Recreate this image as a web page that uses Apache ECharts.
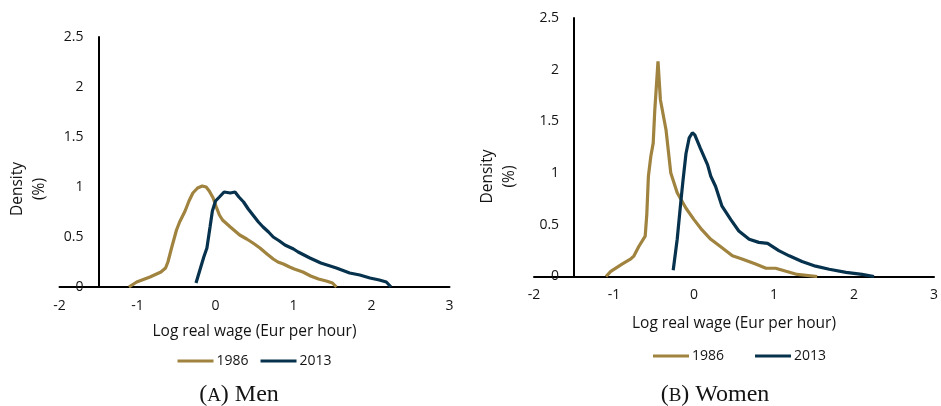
<!DOCTYPE html>
<html>
<head>
<meta charset="utf-8">
<script src="https://cdn.jsdelivr.net/npm/echarts@6/dist/echarts.min.js"></script>
<style>html,body{margin:0;padding:0;background:#fff;}#c{width:941px;height:406px;}</style>
</head>
<body>
<div id="c"></div>
<script>
// ---- data ----
const xTicks = [-2, -1, 0, 1, 2, 3];
const yTicks = [0, 0.5, 1, 1.5, 2, 2.5];
const seriesNames = ['1986', '2013'];
const panelTitles = ['Men', 'Women'];
const panelLetters = ['A', 'B'];
const xAxisTitle = 'Log real wage (Eur per hour)';
const yAxisTitle = 'Density\n(%)';

const menX1986 = [-1.11,-1.01,-0.84,-0.70,-0.64,-0.61,-0.56,-0.50,-0.46,-0.39,-0.34,-0.29,-0.23,-0.17,-0.12,-0.08,-0.03,0.01,0.05,0.09,0.19,0.31,0.40,0.48,0.57,0.66,0.74,0.80,0.87,0.95,1.01,1.12,1.22,1.32,1.42,1.50,1.55];
const menY1986 = [0.00,0.05,0.10,0.15,0.19,0.25,0.40,0.57,0.65,0.76,0.86,0.94,0.99,1.01,1.00,0.96,0.89,0.80,0.72,0.67,0.60,0.52,0.48,0.44,0.39,0.33,0.28,0.25,0.23,0.20,0.18,0.15,0.11,0.08,0.06,0.04,0.00];

const menX2013 = [-0.25,-0.20,-0.15,-0.11,-0.07,-0.04,0.00,0.05,0.11,0.19,0.25,0.30,0.36,0.42,0.48,0.55,0.61,0.68,0.74,0.82,0.89,1.00,1.06,1.21,1.35,1.55,1.72,1.85,1.98,2.10,2.19,2.25];
const menY2013 = [0.04,0.17,0.30,0.39,0.60,0.76,0.86,0.90,0.95,0.94,0.95,0.90,0.85,0.78,0.72,0.65,0.60,0.55,0.50,0.46,0.42,0.38,0.35,0.29,0.24,0.19,0.14,0.12,0.09,0.07,0.05,0.00];

const womenX1986 = [-1.10,-1.04,-0.90,-0.79,-0.75,-0.69,-0.61,-0.59,-0.57,-0.54,-0.51,-0.49,-0.45,-0.42,-0.35,-0.29,-0.21,-0.10,0.00,0.10,0.21,0.33,0.48,0.60,0.77,0.90,1.02,1.15,1.29,1.54];
const womenY1986 = [0.00,0.05,0.12,0.17,0.20,0.29,0.39,0.60,0.97,1.16,1.29,1.61,2.08,1.71,1.42,1.00,0.81,0.66,0.55,0.45,0.36,0.29,0.20,0.17,0.12,0.08,0.08,0.05,0.02,0.00];

const womenX2013 = [-0.26,-0.21,-0.17,-0.14,-0.10,-0.06,-0.02,0.01,0.08,0.17,0.21,0.27,0.35,0.46,0.56,0.69,0.81,0.92,1.06,1.19,1.35,1.52,1.69,1.90,2.10,2.25];
const womenY2013 = [0.06,0.36,0.68,0.91,1.19,1.34,1.39,1.37,1.24,1.08,0.97,0.87,0.68,0.55,0.44,0.36,0.33,0.32,0.25,0.20,0.145,0.10,0.07,0.04,0.02,0.00];

// ---- styling / layout ----
const colors = ['#9f833f', '#07324d'];
const FONT = '"Open Sans", Lato, sans-serif';
const SERIF = '"Liberation Serif", "DejaVu Serif", serif';
const TXT = '#141414';

const grids = [
  { left: 59.5, top: 37, width: 390, height: 250 },
  { left: 534, top: 18, width: 401, height: 258.5 }
];
const yOffsets = [-39, -40.1];
const nameGaps = [37, 39];

function pairs(xs, ys) { return xs.map((x, i) => [x, ys[i]]); }
const panelData = [
  [pairs(menX1986, menY1986), pairs(menX2013, menY2013)],
  [pairs(womenX1986, womenY1986), pairs(womenX2013, womenY2013)]
];

const xAxes = [], yAxes = [], series = [];
grids.forEach((g, i) => {
  xAxes.push({
    type: 'value', gridIndex: i, min: xTicks[0], max: xTicks[xTicks.length - 1], interval: 1,
    axisLine: { show: true, onZero: false, lineStyle: { color: '#000', width: 2 } },
    axisTick: { show: false }, splitLine: { show: false },
    axisLabel: { color: TXT, fontFamily: FONT, fontSize: 14, margin: 12 },
    name: xAxisTitle, nameLocation: 'middle', nameGap: nameGaps[i],
    nameTextStyle: { color: TXT, fontFamily: FONT, fontSize: 15.5 }
  });
  yAxes.push({
    type: 'value', gridIndex: i, min: yTicks[0], max: yTicks[yTicks.length - 1], interval: 0.5,
    offset: yOffsets[i],
    axisLine: { show: true, onZero: false, lineStyle: { color: '#000', width: 2 } },
    axisTick: { show: false }, splitLine: { show: false },
    axisLabel: { color: TXT, fontFamily: FONT, fontSize: 14, margin: 15 }
  });
  seriesNames.forEach((nm, k) => {
    series.push({
      name: nm, type: 'line', xAxisIndex: i, yAxisIndex: i,
      data: panelData[i][k], showSymbol: false, symbol: 'none', smooth: false,
      lineStyle: { color: colors[k], width: 3.2 }, itemStyle: { color: colors[k] },
      z: 3 + k
    });
  });
});

const legends = [
  { left: 172.5, top: 349, itemGap: 12 },
  { left: 648, top: 344, itemGap: 31 }
].map(l => Object.assign({
  data: seriesNames, orient: 'horizontal', icon: 'rect', itemWidth: 36, itemHeight: 3,
  textStyle: { color: TXT, fontFamily: FONT, fontSize: 14, padding: [0, 0, 0, -2] },
  selectedMode: false
}, l));

const graphic = [
  { type: 'text', x: 28.5, y: 189, rotation: Math.PI / 2,
    style: { text: yAxisTitle, align: 'center', verticalAlign: 'middle', fontFamily: FONT, fontSize: 15.5, lineHeight: 22, fill: TXT } },
  { type: 'text', x: 498.5, y: 176.5, rotation: Math.PI / 2,
    style: { text: yAxisTitle, align: 'center', verticalAlign: 'middle', fontFamily: FONT, fontSize: 15.5, lineHeight: 22, fill: TXT } }
];
const captionX = [239, 715];
panelTitles.forEach((t, i) => {
  graphic.push({
    type: 'text', x: captionX[i], y: 395,
    style: {
      text: '{p|(}{s|' + panelLetters[i] + '}{p|) ' + t + '}',
      align: 'center', verticalAlign: 'middle', fill: TXT,
      rich: {
        p: { fontFamily: SERIF, fontSize: 24, verticalAlign: 'bottom', fill: TXT },
        s: { fontFamily: SERIF, fontSize: 19, verticalAlign: 'bottom', fill: TXT, padding: [0, 0, 1, 0] }
      }
    }
  });
});

const chart = echarts.init(document.getElementById('c'), null, { renderer: 'canvas' });
chart.setOption({
  animation: false,
  backgroundColor: '#fff',
  grid: grids,
  xAxis: xAxes,
  yAxis: yAxes,
  legend: legends,
  series: series,
  graphic: graphic
});
</script>
</body>
</html>
